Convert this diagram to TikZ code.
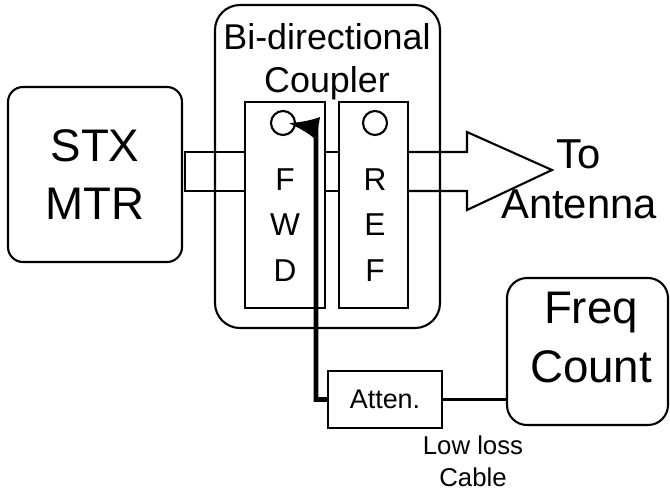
\documentclass[tikz,border=0pt]{standalone}
\usepackage{fontspec}
\setmainfont{Liberation Sans}
\usetikzlibrary{arrows.meta}
\tikzset{
  box/.style     = {rectangle, draw, line width=1.8pt, inner sep=0},
  port/.style    = {circle, draw, line width=1.8pt, minimum size=0.72cm, inner sep=0},
  big/.style     = {font=\fontsize{39}{50}\selectfont, align=center},
  mid/.style     = {font=\fontsize{30.6}{36.6}\selectfont, align=center},
  letters/.style = {font=\fontsize{27}{39}\selectfont, align=center},
  small/.style   = {font=\fontsize{22}{27}\selectfont, align=center},
  guide/.style   = {line width=1.8pt, line join=miter},
  feed/.style    = {line width=4pt, -{Latex[length=26pt,width=20pt]}}
}
\begin{document}
\begin{tikzpicture}[x=0.03cm, y=-0.03cm]
  \useasboundingbox (0,0) rectangle (670,492);
  % blocks
  \node[box, big, rounded corners=0.45cm, minimum width=5.22cm, minimum height=5.25cm] (stx) at (95,174.5) {STX\\MTR};
  \node[box, rounded corners=0.75cm, minimum width=6.75cm, minimum height=9.69cm] (cpl) at (327.5,166.5) {};
  \node[mid] (cpltxt) at (327,62) {Bi-directional\\Coupler};
  \node[box, minimum width=2.4cm, minimum height=6.18cm] (fwd) at (285,205) {};
  \node[box, minimum width=2.07cm, minimum height=6.18cm] (ref) at (373.5,205) {};
  \node[port] (hf) at (283,123) {};  \node[letters] (fwdtxt) at (285,225) {F\\W\\D};
  \node[port] (hr) at (375,123) {};  \node[letters] (reftxt) at (375,225) {R\\E\\F};
  \node[box, font=\fontsize{23}{27}\selectfont, minimum width=3.42cm, minimum height=1.71cm] (atten) at (385,399.5) {Atten.};
  \node[box, rounded corners=0.6cm, minimum width=4.83cm, minimum height=4.41cm] (freq) at (587.5,351.5) {};
  \node[big] (freqtxt) at (591,337.5) {Freq\\Count};
  % waveguide
  \draw[guide] (fwd.west |- 0,152) -- (185,152) -- (185,191) -- (fwd.west |- 0,191);
  \draw[guide] (fwd.east |- 0,152) -- (ref.west |- 0,152);
  \draw[guide] (fwd.east |- 0,191) -- (ref.west |- 0,191);
  \coordinate (tip) at (552,170);
  \draw[guide] (ref.east |- 0,152) -- (467,152) -- (467,132) -- (tip) -- (467,210) -- (467,191) -- (ref.east |- 0,191);
  \node[mid, font=\fontsize{35.7}{40}\selectfont, anchor=base west] (to) at (552,168) {To};
  \node[mid, font=\fontsize{35.7}{40}\selectfont, anchor=base west] (ant) at (497,218) {Antenna};
  % sample path
  \draw[feed] (atten.west) -- (316,399.5) -- (316,128) -- ([xshift=0.15cm]hf.center);
  \draw[guide] (atten.east) -- (atten.east -| freq.west);
  \node[small] (cable) at (473,461) {Low loss\\Cable};
\end{tikzpicture}
\end{document}
